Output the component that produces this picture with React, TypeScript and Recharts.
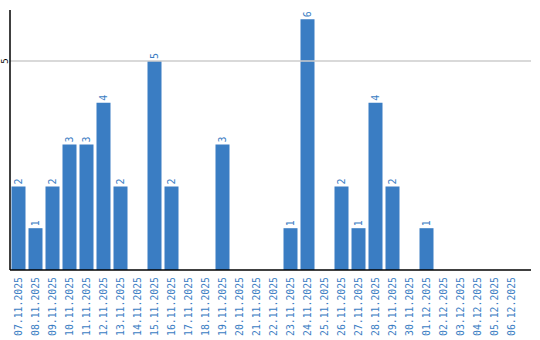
import React from "react";
import { BarChart, Bar, XAxis, YAxis, ReferenceLine, LabelList } from "recharts";

const dates = [
  "07.11.2025", "08.11.2025", "09.11.2025", "10.11.2025", "11.11.2025", "12.11.2025",
  "13.11.2025", "14.11.2025", "15.11.2025", "16.11.2025", "17.11.2025", "18.11.2025",
  "19.11.2025", "20.11.2025", "21.11.2025", "22.11.2025", "23.11.2025", "24.11.2025",
  "25.11.2025", "26.11.2025", "27.11.2025", "28.11.2025", "29.11.2025", "30.11.2025",
  "01.12.2025", "02.12.2025", "03.12.2025", "04.12.2025", "05.12.2025", "06.12.2025",
];
const counts = [2, 1, 2, 3, 3, 4, 2, 0, 5, 2, 0, 0, 3, 0, 0, 0, 1, 6, 0, 2, 1, 4, 2, 0, 1, 0, 0, 0, 0, 0];
const yTicks = [5];
const gridValue = 5;

const data = dates.map((d, i) => ({ date: d, value: counts[i] }));

const BLUE = "#3a7dc3";
const FONT = "'DejaVu Sans Mono', 'Liberation Mono', monospace";

const XTick = (props: any) => {
  const { x, payload } = props;
  const yy = 277;
  return (
    <text
      x={x}
      y={yy}
      transform={`rotate(-90, ${x}, ${yy})`}
      textAnchor="end"
      dominantBaseline="central"
      fill={BLUE}
      fontSize={9.8}
      fontFamily={FONT}
    >
      {payload.value}
    </text>
  );
};

const YTick = (props: any) => {
  const { y, payload } = props;
  const x = 5;
  return (
    <text
      x={x}
      y={y}
      transform={`rotate(-90, ${x}, ${y})`}
      textAnchor="middle"
      dominantBaseline="central"
      fill="#000"
      fontSize={9}
      fontFamily={FONT}
    >
      {payload.value}
    </text>
  );
};

const ValueLabel = (props: any) => {
  const { x, y, width, value } = props;
  if (!value) return null;
  const cx = x + width / 2;
  const cy = y - 2;
  return (
    <text
      x={cx}
      y={cy}
      transform={`rotate(-90, ${cx}, ${cy})`}
      textAnchor="start"
      dominantBaseline="central"
      fill={BLUE}
      fontSize={10}
      fontFamily={FONT}
    >
      {value}
    </text>
  );
};

export default function App() {
  return (
    <div style={{ position: "absolute", left: 0, top: 0, width: 540, height: 340, background: "#fff" }}>
      <BarChart
        width={540}
        height={340}
        data={data}
        margin={{ top: 10, right: 9, bottom: 0, left: 0 }}
        barCategoryGap={1.5}
      >
        <XAxis
          dataKey="date"
          interval={0}
          height={70}
          padding={{ left: 0, right: 11 }}
          tickLine={false}
          axisLine={{ stroke: "#000", strokeWidth: 1.5 }}
          tick={<XTick />}
          tickMargin={0}
        />
        <YAxis
          width={10}
          domain={[0, 6.22]}
          ticks={yTicks}
          tickLine={false}
          axisLine={{ stroke: "#000", strokeWidth: 1.5 }}
          tick={<YTick />}
        />
        <ReferenceLine y={gridValue} stroke="#cccccc" strokeWidth={1.5} />
        <Bar dataKey="value" fill={BLUE} isAnimationActive={false}>
          <LabelList dataKey="value" content={<ValueLabel />} />
        </Bar>
      </BarChart>
    </div>
  );
}
